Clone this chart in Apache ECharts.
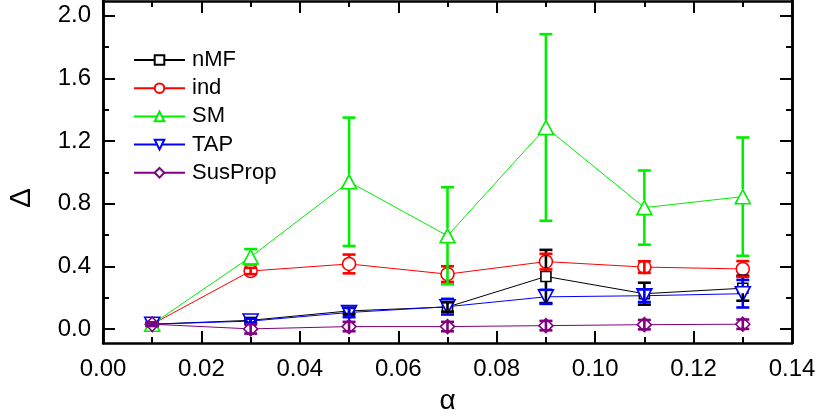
<!DOCTYPE html>
<html><head><meta charset="utf-8">
<script src="https://cdn.jsdelivr.net/npm/echarts@6/dist/echarts.min.js"></script>
<style>html,body{margin:0;padding:0;background:#fff}#c{width:821px;height:419px}</style>
</head><body><div id="c"></div>
<script>
const alpha = [0.01, 0.03, 0.05, 0.07, 0.09, 0.11, 0.13];
const nMF = [0.03, 0.055, 0.115, 0.14, 0.335, 0.225, 0.26];
const nMFErr = [0.01, 0.015, 0.02, 0.03, 0.17, 0.07, 0.08];
const ind = [0.03, 0.37, 0.415, 0.35, 0.43, 0.395, 0.383];
const indErr = [0.01, 0.02, 0.06, 0.05, 0.05, 0.037, 0.05];
const SM = [0.03, 0.46, 0.94, 0.595, 1.287, 0.775, 0.845];
const SMErr = [0.01, 0.05, 0.41, 0.31, 0.596, 0.237, 0.378];
const TAP = [0.03, 0.05, 0.105, 0.142, 0.205, 0.212, 0.225];
const TAPErr = [0.01, 0.015, 0.03, 0.05, 0.045, 0.04, 0.088];
const SusProp = [0.03, 0.0, 0.015, 0.015, 0.021, 0.027, 0.03];
const SusPropErr = [0.01, 0.03, 0.03, 0.03, 0.03, 0.03, 0.03];
const xTicks = [0, 0.02, 0.04, 0.06, 0.08, 0.10, 0.12, 0.14];
const yMajor = [0, 0.4, 0.8, 1.2, 1.6, 2.0];
const yMinor = [0.2, 0.6, 1.0, 1.4, 1.8];

const FONT = 'Liberation Sans';
const chart = echarts.init(document.getElementById('c'), null, {renderer: 'canvas'});

function lineSeries(name, ys, color, symbol, size) {
  return {
    type: 'line', name: name, data: alpha.map((x, i) => [x, ys[i]]),
    symbol: symbol, symbolSize: size, z: 2,
    lineStyle: {color: color, width: 1},
    itemStyle: {color: '#fff', borderColor: color, borderWidth: 1.6},
    emphasis: {disabled: true}, animation: false
  };
}
function errSeries(name, ys, errs, color, gap) {
  return {
    type: 'custom', name: name + ' err', z: 3, silent: true, animation: false,
    data: alpha.map((x, i) => [x, ys[i], errs[i]]),
    encode: {x: 0, y: 1},
    renderItem: function (params, api) {
      const x = api.value(0), y = api.value(1), e = api.value(2);
      const c = api.coord([x, y]), t = api.coord([x, y + e]), b = api.coord([x, y - e]);
      const hw = 6.5;
      const st = {stroke: color, lineWidth: 2.6};
      const ch = [];
      if (c[1] - t[1] > gap) {
        ch.push({type: 'line', shape: {x1: c[0], y1: t[1], x2: c[0], y2: c[1] - gap}, style: st});
        ch.push({type: 'line', shape: {x1: c[0], y1: c[1] + gap, x2: c[0], y2: b[1]}, style: st});
      } else {
        ch.push({type: 'line', shape: {x1: c[0], y1: t[1], x2: c[0], y2: b[1]}, style: st});
      }
      ch.push({type: 'line', shape: {x1: c[0] - hw, y1: t[1], x2: c[0] + hw, y2: t[1]}, style: st});
      ch.push({type: 'line', shape: {x1: c[0] - hw, y1: b[1], x2: c[0] + hw, y2: b[1]}, style: st});
      return {type: 'group', children: ch};
    }
  };
}
const downTri = 'path://M0,0 L10,0 L5,9 Z';
const upTri = 'path://M5,0 L10,9 L0,9 Z';

const axisLine = {show: true, onZero: false, lineStyle: {color: '#000', width: 2.5}};
function yAx(pos, vals, len, labels) {
  return {
    type: 'value', position: pos, min: -0.09, max: 2.095,
    axisLine: axisLine,
    axisTick: {show: true, inside: true, length: len, customValues: vals, lineStyle: {color: '#000', width: 2}},
    axisLabel: labels ? {show: true, customValues: vals, formatter: v => v.toFixed(1), fontSize: 24, fontFamily: FONT, color: '#000', margin: 12} : {show: false},
    splitLine: {show: false}
  };
}
function xAx(pos, labels) {
  return {
    type: 'value', position: pos, min: 0, max: 0.14, interval: 0.02,
    axisLine: axisLine,
    axisTick: {show: true, inside: true, length: 12, lineStyle: {color: '#000', width: 2}},
    minorTick: {show: true, splitNumber: 2, length: 6, lineStyle: {color: '#000', width: 2}},
    axisLabel: labels ? {show: true, formatter: v => v.toFixed(2), fontSize: 24, fontFamily: FONT, color: '#000', margin: 14, showMinLabel: true, showMaxLabel: true} : {show: false},
    splitLine: {show: false},
    name: labels ? 'α' : '', nameLocation: 'middle', nameGap: 44,
    nameTextStyle: {fontSize: 28, fontFamily: FONT, color: '#000'}
  };
}

chart.setOption({
  backgroundColor: '#fff',
  animation: false,
  grid: {left: 103, top: 1, right: 29, bottom: 76, containLabel: false, outerBoundsMode: 'none'},
  xAxis: [xAx('bottom', true), xAx('top', false)],
  yAxis: [yAx('left', yMajor, 12, true), yAx('left', yMinor, 6, false), yAx('right', yMajor, 12, false), yAx('right', yMinor, 6, false)],
  legend: {
    orient: 'vertical', left: 133, top: 49, padding: 0, itemWidth: 51, itemHeight: 12, itemGap: 6.2,
    textStyle: {fontSize: 22, fontFamily: FONT, color: '#000', padding: [0, 0, 0, 2]},
    data: ['nMF', 'ind', 'SM', 'TAP', 'SusProp']
  },
  graphic: [{
    type: 'text', x: 22, y: 198, rotation: Math.PI / 2,
    style: {text: 'Δ', fontSize: 30, fontFamily: FONT, fill: '#000', align: 'center', verticalAlign: 'middle'}
  }],
  series: [
    lineSeries('nMF', nMF, '#000000', 'rect', 10),
    lineSeries('ind', ind, '#ff0000', 'circle', 13),
    lineSeries('SM', SM, '#00ee00', upTri, [15, 14]),
    lineSeries('TAP', TAP, '#0000ff', downTri, [15, 14]),
    lineSeries('SusProp', SusProp, '#800080', 'diamond', [14, 14]),
    errSeries('nMF', nMF, nMFErr, '#000000', 5),
    errSeries('ind', ind, indErr, '#ff0000', 6.5),
    errSeries('SM', SM, SMErr, '#00ee00', 7.5),
    errSeries('TAP', TAP, TAPErr, '#0000ff', 7),
    errSeries('SusProp', SusProp, SusPropErr, '#800080', 7)
  ]
});
</script></body></html>
